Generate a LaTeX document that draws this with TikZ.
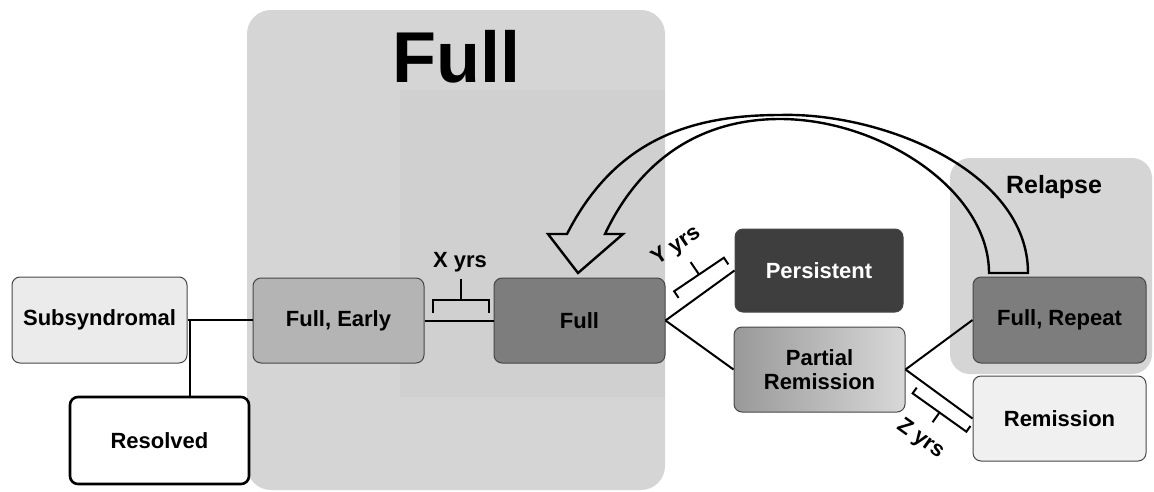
\documentclass[tikz,border=0pt]{standalone}
\usepackage{fontspec}
\setmainfont{Liberation Sans}
\usetikzlibrary{calc}
\definecolor{regionbg}{HTML}{D5D5D5}
\definecolor{regioninner}{HTML}{D0D0D0}
\definecolor{boxborder}{HTML}{474747}
\definecolor{cSub}{HTML}{EBEBEB}
\definecolor{cEarly}{HTML}{B4B4B4}
\definecolor{cFull}{HTML}{7D7D7D}
\definecolor{cPers}{HTML}{3E3E3E}
\definecolor{cPartA}{HTML}{999999}
\definecolor{cPartB}{HTML}{D8D8D8}
\definecolor{cRem}{HTML}{F0F0F0}
\tikzset{
  box/.style={draw=boxborder, line width=1pt, rounded corners=8pt, inner sep=0pt,
    align=center, font=\fontsize{22}{24}\selectfont\bfseries},
  conn/.style={line width=2pt, draw=black},
  brk/.style={line width=2pt, draw=black},
  lbl/.style={font=\fontsize{22}{24}\selectfont\bfseries, inner sep=0pt},
  region/.style={fill=regionbg, draw=none, rounded corners=24pt},
  bigarrow/.style={line width=2.4pt, draw=black, line join=miter}
}
\begin{document}
\begin{tikzpicture}[x=1pt,y=-1pt]
\useasboundingbox (0,0) rectangle (1154,491);
\fill[white] (0,0) rectangle (1154,491);

% background regions
\fill[region] (247,10) rectangle (665,490);
\fill[regioninner] (400,90) rectangle (665,397);
\fill[region, rounded corners=20pt] (950,158) rectangle (1152,374);

\node[lbl, font=\fontsize{72}{72}\selectfont\bfseries, anchor=base] (fulltitle) at (456,82) {Full};
\node[lbl, font=\fontsize{25}{26}\selectfont\bfseries, anchor=base] (relapse) at (1054,193) {Relapse};

% nodes
\node[box, fill=cSub, minimum width=175pt, minimum height=86pt] (sub) at (99.5,320) {Subsyndromal};
\node[box, fill=white, draw=black, line width=2.6pt, minimum width=179pt, minimum height=87pt] (res) at (159.5,440.5) {Resolved};
\node[box, fill=cEarly, minimum width=171pt, minimum height=85pt] (early) at (338.5,320.5) {Full, Early};
\node[box, fill=cFull, minimum width=171pt, minimum height=85pt] (full) at (579.5,320.5) {Full};
\node[box, fill=cPers, text=white, minimum width=168pt, minimum height=83pt] (pers) at (819,270.5) {Persistent};
\node[box, left color=cPartA, right color=cPartB, minimum width=171pt, minimum height=85pt] (part) at (819.5,369.5) {Partial\\Remission};
\node[box, fill=cFull, minimum width=173pt, minimum height=86pt] (rep) at (1059.5,320) {Full, Repeat};
\node[box, fill=cRem, minimum width=173pt, minimum height=85pt] (rem) at (1059.5,418.5) {Remission};

% connectors
\coordinate (j1) at (190,320);
\draw[conn] (sub.east |- j1) -- (early.west |- j1);
\draw[conn] (j1) -- (j1 |- res.north);
\draw[conn] (early.east) -- (full.west);
\draw[conn] (full.east) -- (pers.west);
\draw[conn] (full.east) -- (part.west);
\draw[conn] (part.east) -- (rep.west);
\draw[conn] (part.east) -- (rem.west);

% X bracket
\draw[brk] (433,313) -- (433,300) -- (489,300) -- (489,313);
\draw[brk] (461,300) -- (461,279);
\node[lbl, anchor=base] (xyrs) at (460,267) {X yrs};

% Y bracket
\begin{scope}[shift={(699,274.5)}, rotate=34]
  \draw[brk] (-30,8) -- (-30,0) -- (30,0) -- (30,8);
  \draw[brk] (0,0) -- (0,-15);
  \node[lbl, rotate=34] (yyrs) at (-3,-36) {Y yrs};
\end{scope}

% Z bracket
\begin{scope}[shift={(939.5,412.5)}, rotate=-35.5]
  \draw[brk] (-33,-7) -- (-33,0) -- (33,0) -- (33,-7);
  \draw[brk] (0,0) -- (0,12);
  \node[lbl, rotate=-35.5] (zyrs) at (0,33) {Z yrs};
\end{scope}

% big curved arrow from Full, Repeat back to Full
\coordinate (tailR) at (1028,273);
\coordinate (tailL) at (989,273);
\draw[bigarrow]
  (567,234) .. controls (615,140) and (690,115) .. (780,115)
  .. controls (880,112) and (1028,170) .. (tailR)
  -- (tailL)
  .. controls (989,190) and (880,119) .. (780,119)
  .. controls (700,119) and (640,160) .. (605,234)
  -- (623,234) -- (578,273) -- (548,234) -- cycle;
\end{tikzpicture}
\end{document}
